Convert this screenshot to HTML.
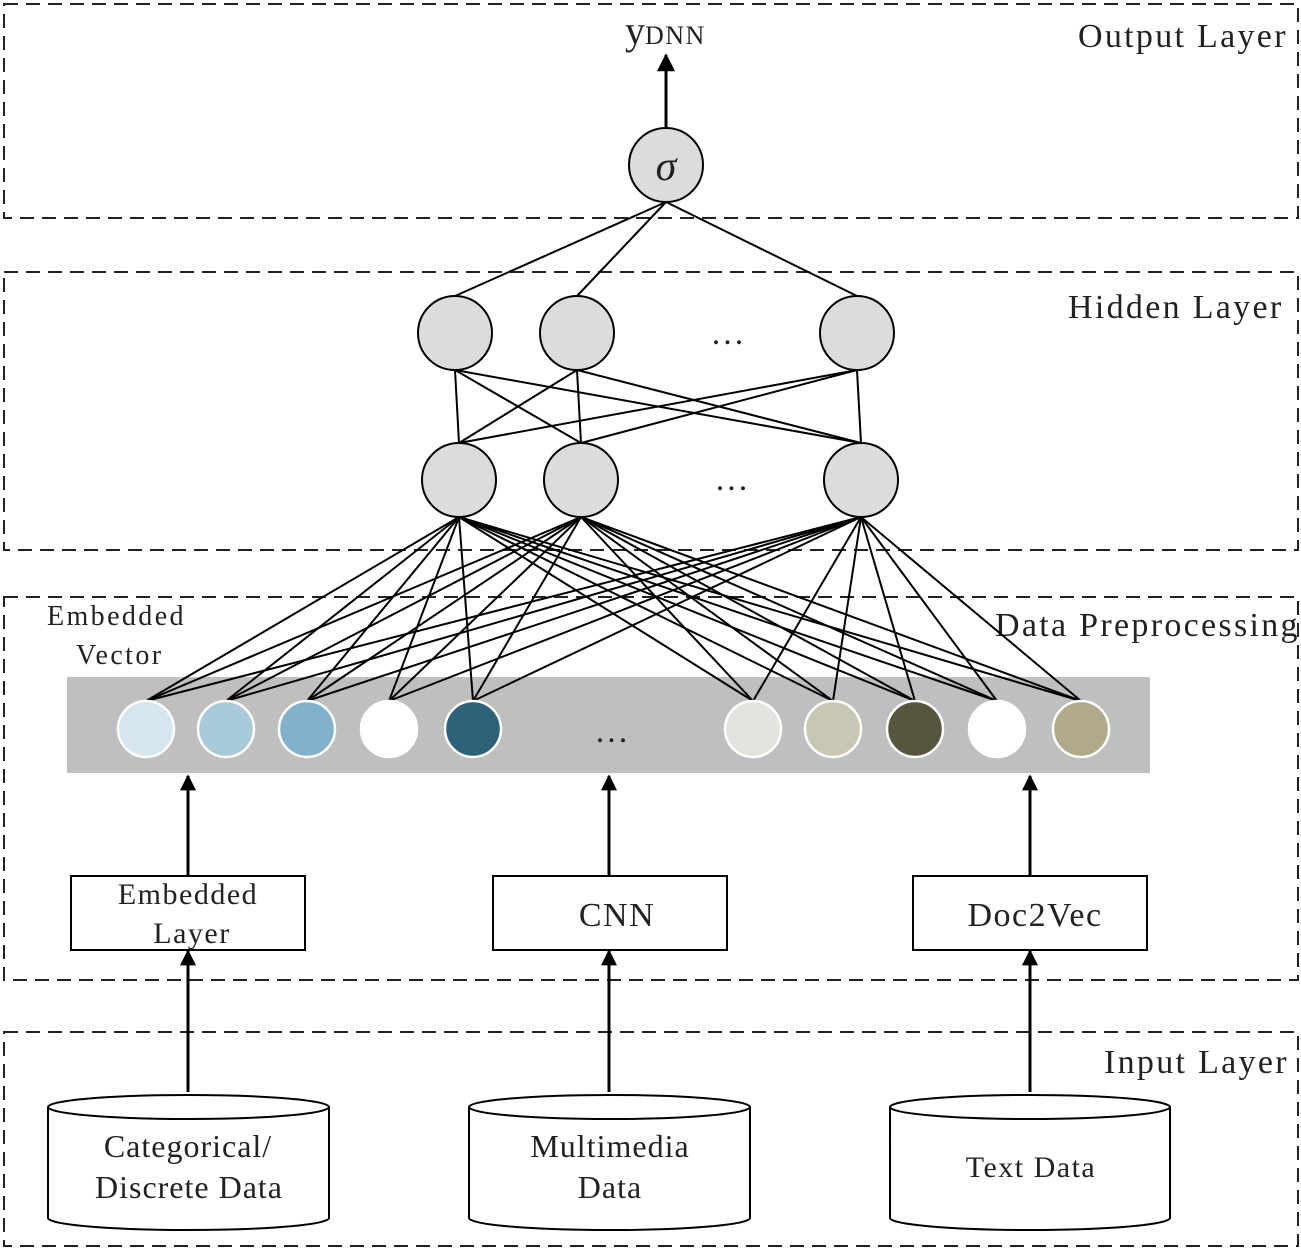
<!DOCTYPE html>
<html><head><meta charset="utf-8"><style>html,body{margin:0;padding:0;background:#fff}svg{display:block}text{font-family:"Liberation Serif",serif;fill:#222}</style></head><body>
<svg width="1301" height="1249" viewBox="0 0 1301 1249" xmlns="http://www.w3.org/2000/svg">
<defs>
<marker id="ah2" viewBox="0 0 10 10" refX="9" refY="5" markerWidth="22" markerHeight="16" orient="auto" markerUnits="userSpaceOnUse"><path d="M0,0L10,5L0,10z" fill="#000"/></marker>
<marker id="ah3" viewBox="0 0 10 10" refX="9" refY="5" markerWidth="32" markerHeight="18" orient="auto" markerUnits="userSpaceOnUse"><path d="M0,0L10,5L0,10z" fill="#000"/></marker></defs>
<g fill="none" stroke="#222" stroke-width="2" stroke-dasharray="14,8">
<rect x="4" y="4" width="1294" height="214"/>
<rect x="4" y="272" width="1294" height="278"/>
<rect x="4" y="597" width="1294" height="383"/>
<rect x="4" y="1032" width="1294" height="214"/>
</g>
<g font-size="34" letter-spacing="2.3"><text x="1078" y="47">Output Layer</text>
<text x="1068" y="318">Hidden Layer</text>
<text x="995" y="636">Data Preprocessing</text>
<text x="1104" y="1073">Input Layer</text></g>
<text x="47" y="625" font-size="28" letter-spacing="2.4">Embedded</text>
<text x="76" y="664" font-size="28" letter-spacing="2.4">Vector</text>
<rect x="67" y="677" width="1083" height="96" fill="#bfbfbf"/>
<g stroke="#000" stroke-width="2">
<line x1="666" y1="202" x2="455" y2="296"/><line x1="666" y1="202" x2="577" y2="296"/><line x1="666" y1="202" x2="857" y2="296"/>
<line x1="455" y1="370" x2="459" y2="443"/><line x1="455" y1="370" x2="581" y2="443"/><line x1="455" y1="370" x2="861" y2="443"/>
<line x1="577" y1="370" x2="459" y2="443"/><line x1="577" y1="370" x2="581" y2="443"/><line x1="577" y1="370" x2="861" y2="443"/>
<line x1="857" y1="370" x2="459" y2="443"/><line x1="857" y1="370" x2="581" y2="443"/><line x1="857" y1="370" x2="861" y2="443"/>
</g>
<g stroke="#000" stroke-width="2">
<line x1="459" y1="517" x2="146" y2="701"/><line x1="459" y1="517" x2="226" y2="701"/><line x1="459" y1="517" x2="307" y2="701"/><line x1="459" y1="517" x2="389" y2="701"/><line x1="459" y1="517" x2="473" y2="701"/><line x1="459" y1="517" x2="753" y2="701"/><line x1="459" y1="517" x2="833" y2="701"/><line x1="459" y1="517" x2="915" y2="701"/><line x1="459" y1="517" x2="997" y2="701"/><line x1="459" y1="517" x2="1081" y2="701"/>
<line x1="581" y1="517" x2="146" y2="701"/><line x1="581" y1="517" x2="226" y2="701"/><line x1="581" y1="517" x2="307" y2="701"/><line x1="581" y1="517" x2="389" y2="701"/><line x1="581" y1="517" x2="473" y2="701"/><line x1="581" y1="517" x2="753" y2="701"/><line x1="581" y1="517" x2="833" y2="701"/><line x1="581" y1="517" x2="915" y2="701"/><line x1="581" y1="517" x2="997" y2="701"/><line x1="581" y1="517" x2="1081" y2="701"/>
<line x1="861" y1="517" x2="146" y2="701"/><line x1="861" y1="517" x2="226" y2="701"/><line x1="861" y1="517" x2="307" y2="701"/><line x1="861" y1="517" x2="389" y2="701"/><line x1="861" y1="517" x2="473" y2="701"/><line x1="861" y1="517" x2="753" y2="701"/><line x1="861" y1="517" x2="833" y2="701"/><line x1="861" y1="517" x2="915" y2="701"/><line x1="861" y1="517" x2="997" y2="701"/><line x1="861" y1="517" x2="1081" y2="701"/>
</g>
<g fill="#dcdcdc" stroke="#000" stroke-width="2">
<circle cx="666" cy="165" r="37"/>
<circle cx="455" cy="333" r="37"/><circle cx="577" cy="333" r="37"/><circle cx="857" cy="333" r="37"/>
<circle cx="459" cy="480" r="37"/><circle cx="581" cy="480" r="37"/><circle cx="861" cy="480" r="37"/>
</g>
<text x="666" y="180" font-size="42" font-style="italic" text-anchor="middle">σ</text>
<line x1="666" y1="128" x2="666" y2="55" stroke="#000" stroke-width="3" marker-end="url(#ah3)"/>
<text x="625" y="44" font-size="40">y<tspan font-size="26" letter-spacing="1.5">DNN</tspan></text>
<g font-size="34" text-anchor="middle" letter-spacing="3"><text x="729" y="344">...</text><text x="733" y="490">...</text><text x="613" y="742">...</text></g>
<g stroke="#fff" stroke-width="2.5">
<circle cx="146" cy="729" r="28" fill="#d6e6f0"/><circle cx="226" cy="729" r="28" fill="#a9cadb"/><circle cx="307" cy="729" r="28" fill="#82b2cb"/><circle cx="389" cy="729" r="28" fill="#fff"/><circle cx="473" cy="729" r="28" fill="#2e6278"/>
<circle cx="753" cy="729" r="28" fill="#e4e4de"/><circle cx="833" cy="729" r="28" fill="#c9c6b3"/><circle cx="915" cy="729" r="28" fill="#58553f"/><circle cx="997" cy="729" r="28" fill="#fff"/><circle cx="1081" cy="729" r="28" fill="#b0a98c"/>
</g>
<g stroke="#000" stroke-width="3">
<line x1="188" y1="875" x2="188" y2="776" marker-end="url(#ah2)"/><line x1="609" y1="875" x2="609" y2="776" marker-end="url(#ah2)"/><line x1="1030" y1="875" x2="1030" y2="776" marker-end="url(#ah2)"/>
<line x1="188" y1="1092" x2="188" y2="951" marker-end="url(#ah2)"/><line x1="609" y1="1092" x2="609" y2="951" marker-end="url(#ah2)"/><line x1="1030" y1="1092" x2="1030" y2="951" marker-end="url(#ah2)"/>
</g>
<g fill="#fff" stroke="#000" stroke-width="2">
<rect x="71" y="876" width="234" height="74"/><rect x="493" y="876" width="234" height="74"/><rect x="913" y="876" width="234" height="74"/>
</g>
<g font-size="30" text-anchor="middle" letter-spacing="1.5"><text x="188" y="904">Embedded</text><text x="192" y="943">Layer</text>
<text x="617" y="926" font-size="34">CNN</text><text x="1035" y="926" font-size="34">Doc2Vec</text></g>
<g fill="#fff" stroke="#000" stroke-width="2">
<path d="M48,1107 A140,12 0 0 1 329,1107 L329,1218 A140,12 0 0 1 48,1218 Z"/><path d="M48,1107 A140,12 0 0 0 329,1107"/>
<path d="M469,1107 A140,12 0 0 1 750,1107 L750,1218 A140,12 0 0 1 469,1218 Z"/><path d="M469,1107 A140,12 0 0 0 750,1107"/>
<path d="M890,1107 A140,12 0 0 1 1170,1107 L1170,1218 A140,12 0 0 1 890,1218 Z"/><path d="M890,1107 A140,12 0 0 0 1170,1107"/>
</g>
<g font-size="32" text-anchor="middle" letter-spacing="1"><text x="188" y="1157">Categorical/</text><text x="189" y="1198">Discrete Data</text>
<text x="610" y="1157">Multimedia</text><text x="610" y="1198">Data</text>
<text x="1031" y="1177" font-size="30" letter-spacing="1.5">Text Data</text></g>
</svg>
</body></html>
